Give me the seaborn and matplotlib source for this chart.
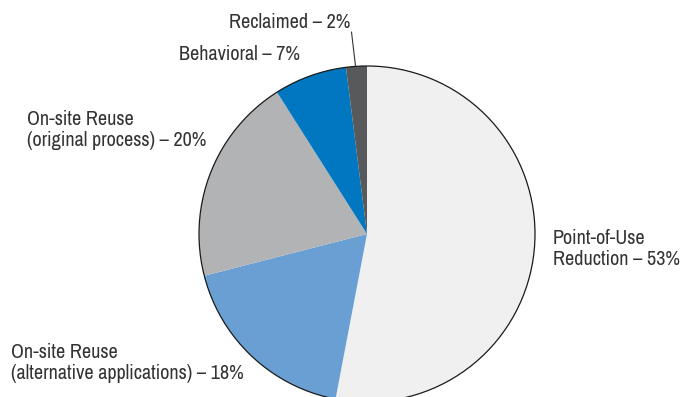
import seaborn as sns
import matplotlib.pyplot as plt
from matplotlib.patches import Circle

sns.set_theme(style="white")
plt.rcParams['font.family'] = ['Archivo Narrow', 'Liberation Sans', 'DejaVu Sans']

# data
categories = ["Point-of-Use\nReduction", "On-site Reuse\n(alternative applications)",
              "On-site Reuse\n(original process)", "Behavioral", "Reclaimed"]
shares = [53, 18, 20, 7, 2]
colors = ["#f0f0f0", "#6a9fd4", "#b2b3b5", "#0077c0", "#58595b"]

fig = plt.figure(figsize=(6.83, 3.97), dpi=100)
ax = fig.add_axes([0, 0, 1, 1])

cx, cy, r = 367, 397 - 234, 168
ax.pie(shares, colors=colors, startangle=90, counterclock=False,
       center=(cx, cy), radius=r, frame=True,
       wedgeprops=dict(linewidth=0))
ax.set_xlim(0, 683)
ax.set_ylim(0, 397)
ax.set_aspect("equal")
ax.axis("off")
ax.add_patch(Circle((cx, cy), r, fill=False, edgecolor="#1a1a1a", lw=0.9))

txt = dict(fontsize=14.5, color="#333333", va="center", ha="left", linespacing=1.12)
labels = [f"{c} – {s}%" for c, s in zip(categories, shares)]
ax.text(553, 397 - 249, labels[0], **txt)
ax.text(11, 397 - 363, labels[1], **txt)
ax.text(27, 397 - 130, labels[2], **txt)
ax.text(179, 397 - 55, labels[3], **txt)
ax.text(229, 397 - 22, labels[4], **txt)
ax.plot([351.5, 355.5], [397 - 32, 397 - 66], color="#333333", lw=0.8)

plt.savefig("out.png", dpi=100)
